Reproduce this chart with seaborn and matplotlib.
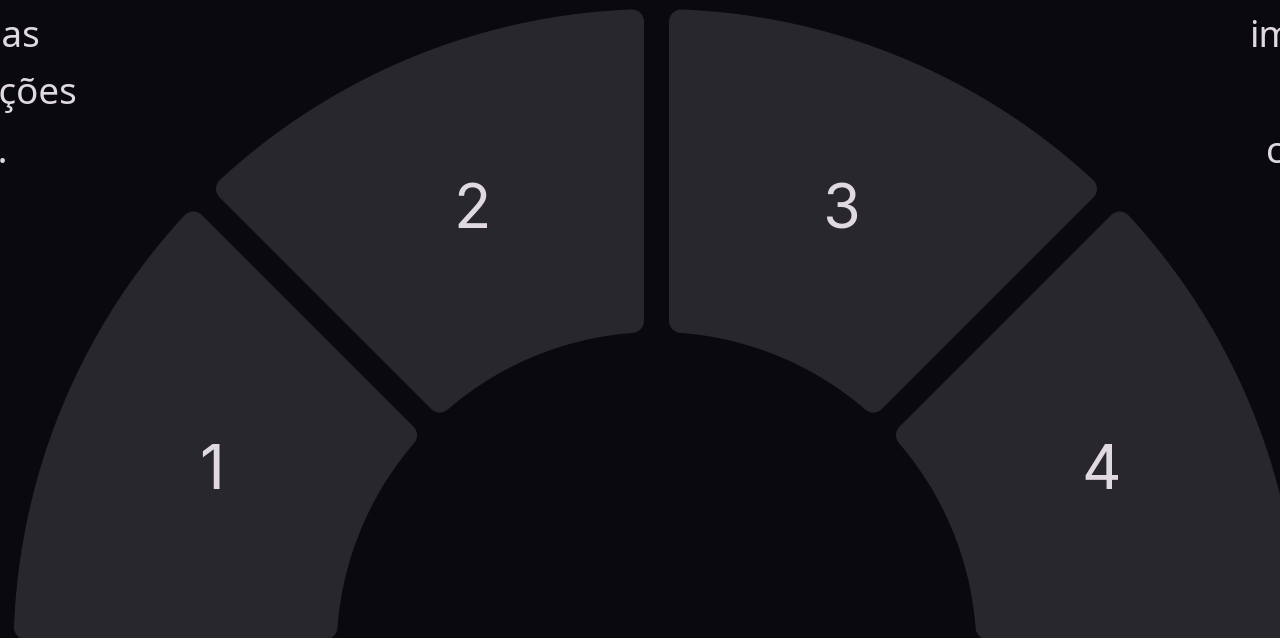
import numpy as np
import matplotlib
matplotlib.use("Agg")
import matplotlib.pyplot as plt
from matplotlib.patches import Polygon
import seaborn as sns

# ---- data ----
categories = ["1", "2", "3", "4"]
values = [1, 1, 1, 1]
left_lines = ["suas", "informações", "aqui."]
right_lines = ["importantes", "os seus", "com"]

# ---- style ----
BG = "#0a0a0e"
SEG = "#27272c"
TXT = "#e0d9e2"

sns.set_theme(style="dark", rc={"axes.facecolor": BG, "figure.facecolor": BG,
                                "savefig.facecolor": BG})
plt.rcParams["font.family"] = ["Noto Sans", "DejaVu Sans"]
palette = sns.color_palette([SEG] * len(values))

W, H, DPI = 1280, 638, 100
fig = plt.figure(figsize=(W / DPI, H / DPI), dpi=DPI)
ax = fig.add_axes([0, 0, 1, 1])
ax.set_xlim(0, W)
ax.set_ylim(H, 0)
ax.set_axis_off()

cx, cy = 656.5, 652.0
R_out, R_in = 643.0, 320.0
gap = 25.0
rho = 12.0  # corner rounding
px2pt = 72.0 / DPI

vals = np.asarray(values, dtype=float)
edges = 180.0 - 180.0 * np.concatenate([[0], np.cumsum(vals)]) / vals.sum()

def pt(r, a):
    return (cx + r * np.cos(a), cy - r * np.sin(a))

d = gap / 2 + rho
ro, ri = R_out - rho, R_in + rho
for i, cat in enumerate(categories):
    a0, a1 = np.radians(edges[i]), np.radians(edges[i + 1])  # a0 > a1
    o0, o1 = a0 - np.arcsin(d / ro), a1 + np.arcsin(d / ro)
    i0, i1 = a0 - np.arcsin(d / ri), a1 + np.arcsin(d / ri)
    outer = [pt(ro, a) for a in np.linspace(o0, o1, 200)]
    inner = [pt(ri, a) for a in np.linspace(i1, i0, 120)]
    poly = Polygon(outer + inner, closed=True, facecolor=palette[i],
                   edgecolor=palette[i], linewidth=2 * rho * px2pt,
                   joinstyle="round", antialiased=True)
    ax.add_patch(poly)
    am = (a0 + a1) / 2
    lx, ly = pt((R_out + R_in) / 2, am)
    ax.text(lx, ly + 5, cat, ha="center", va="center", color=TXT,
            fontsize=44, family=["Inter", "DejaVu Sans"])

# partially visible side texts (cut by the canvas edge, as in the reference)
fs = 26.5
for y, s, xe in zip([47, 104, 163], left_lines, [40, 77, 8]):
    ax.text(xe, y, s, ha="right", va="baseline", color=TXT, fontsize=fs)
for y, s, xs in zip([47, 104, 163], right_lines, [1249, 1300, 1266]):
    ax.text(xs, y, s, ha="left", va="baseline", color=TXT, fontsize=fs)

fig.savefig("out.png", dpi=DPI, facecolor=BG)
